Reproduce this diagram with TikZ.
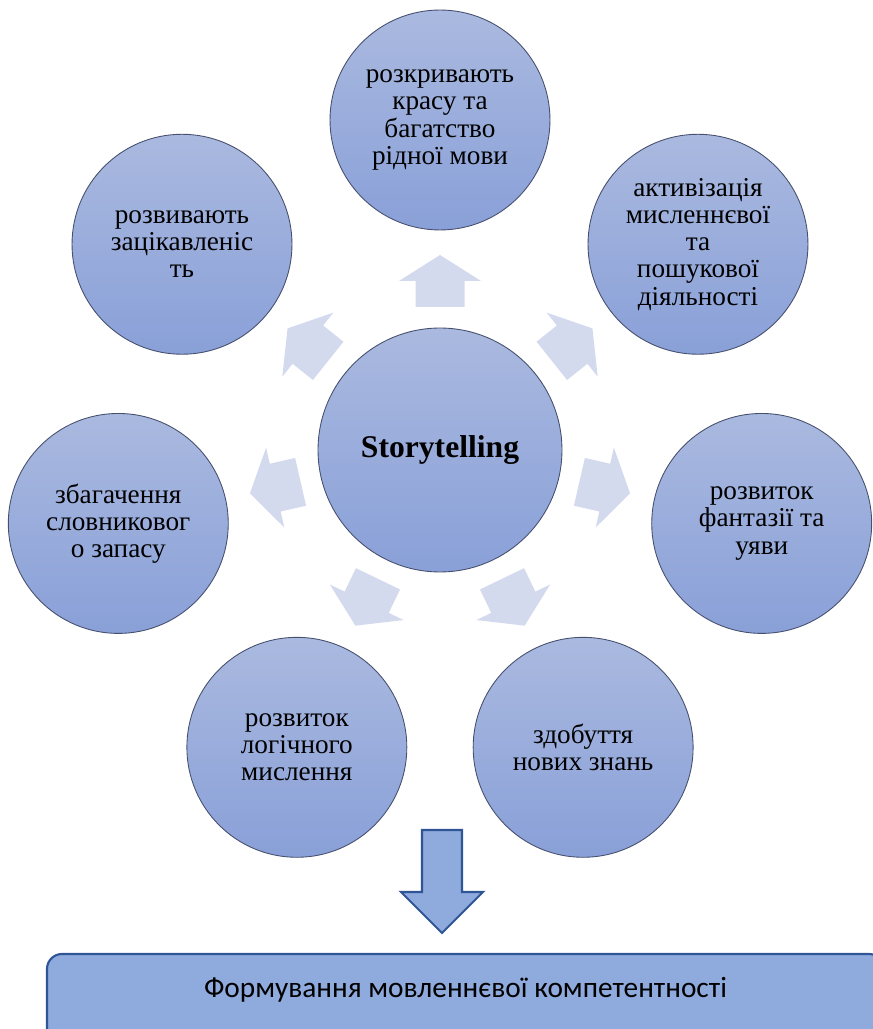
\documentclass[tikz,border=0pt]{standalone}
\usepackage{fontspec}
\setmainfont{Liberation Serif}
\newfontfamily\calibri{Carlito}
\definecolor{circtop}{RGB}{170,185,223}
\definecolor{circbot}{RGB}{137,160,216}
\definecolor{circline}{RGB}{70,80,110}
\definecolor{pale}{RGB}{212,218,238}
\definecolor{boxfill}{RGB}{143,170,220}
\definecolor{boxline}{RGB}{47,85,151}
\tikzset{
  bubble/.style={circle, draw=circline, line width=0.5pt, top color=circtop,
    bottom color=circbot, minimum size=4.4cm, inner sep=0pt, align=center,
    font=\fontsize{15.5}{15.5}\selectfont},
  hub/.style={bubble, minimum size=4.88cm, font=\fontsize{18}{20}\selectfont\bfseries},
  blockarrow/.style={fill=pale},
}
\begin{document}
\begin{tikzpicture}[x=0.02cm, y=0.02cm]
  \useasboundingbox (0,0) rectangle (873,1029);
  \clip (0,0) rectangle (873,1029);
  % centre
  \node[hub] (story) at (440,579) {Storytelling};
  % outer circles
  \node[bubble] (beauty) at ([shift={(90:330)}]story.center) {розкривають\\красу та\\багатство\\рідної мови};
  \node[bubble] (interest) at ([shift={(141.43:330)}]story.center) {розвивають\\зацікавленіс\\ть};
  \node[bubble] (vocab) at ([shift={(192.86:330)}]story.center) {збагачення\\словниковог\\о запасу};
  \node[bubble] (logic) at ([shift={(244.29:330)}]story.center) {розвиток\\логічного\\мислення};
  \node[bubble] (knowledge) at ([shift={(295.71:330)}]story.center) {здобуття\\нових знань};
  \node[bubble] (fantasy) at ([shift={(347.14:330)}]story.center) {розвиток\\фантазії та\\уяви};
  \node[bubble] (thinking) at ([shift={(38.57:330)}]story.center) {активізація\\мисленнєвої\\та\\пошукової\\діяльності};
  % block arrows
  \foreach \a in {90,141.43,192.86,244.29,295.71,347.14,38.57}
    \fill[blockarrow, shift={(story.center)}, rotate=\a]
      (143,-24.5) -- (169,-24.5) -- (169,-41) -- (195,0) -- (169,41) -- (169,24.5) -- (143,24.5) -- cycle;
  % down arrow
  \filldraw[fill=boxfill, draw=boxline, line width=1.2pt]
    (422,199) -- (462,199) -- (462,137) -- (483,137) -- (442,96) -- (401,137) -- (422,137) -- cycle;
  % result
  \filldraw[fill=boxfill, draw=boxline, line width=1.2pt, rounded corners=0.3cm]
    (47,-30) rectangle (884,75);
  \node[font=\calibri\fontsize{16.7}{19}\selectfont] (result) at (465.5,39) {Формування мовленнєвої компетентності};
\end{tikzpicture}
\end{document}
